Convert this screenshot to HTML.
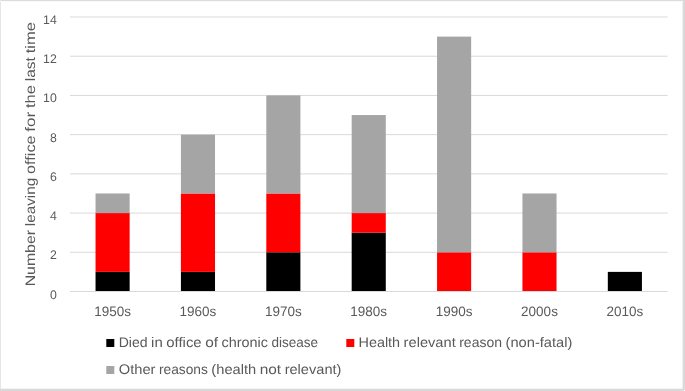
<!DOCTYPE html>
<html><head><meta charset="utf-8"><title>Chart</title>
<style>
html,body{margin:0;padding:0;background:#fff;}
body{width:685px;height:391px;overflow:hidden;font-family:"Liberation Sans",sans-serif;}
svg{display:block;will-change:transform;}
text{font-family:"Liberation Sans",sans-serif;fill:#595959;text-rendering:geometricPrecision;}
</style></head><body>
<svg width="685" height="391" viewBox="0 0 685 391">
<rect x="0" y="0" width="685" height="391" fill="#ffffff"/>

<rect x="70" y="251.79" width="597.6" height="1" fill="#d9d9d9"/>
<rect x="70" y="212.57" width="597.6" height="1" fill="#d9d9d9"/>
<rect x="70" y="173.36" width="597.6" height="1" fill="#d9d9d9"/>
<rect x="70" y="134.14" width="597.6" height="1" fill="#d9d9d9"/>
<rect x="70" y="94.93" width="597.6" height="1" fill="#d9d9d9"/>
<rect x="70" y="55.72" width="597.6" height="1" fill="#d9d9d9"/>
<rect x="70" y="16.50" width="597.6" height="1" fill="#d9d9d9"/>
<rect x="95.54" y="271.89" width="34.1" height="19.61" fill="#000000"/>
<rect x="95.54" y="213.07" width="34.1" height="58.82" fill="#ff0000"/>
<rect x="95.54" y="193.47" width="34.1" height="19.61" fill="#a5a5a5"/>
<rect x="180.92" y="271.89" width="34.1" height="19.61" fill="#000000"/>
<rect x="180.92" y="193.47" width="34.1" height="78.43" fill="#ff0000"/>
<rect x="180.92" y="134.64" width="34.1" height="58.82" fill="#a5a5a5"/>
<rect x="266.30" y="252.29" width="34.1" height="39.21" fill="#000000"/>
<rect x="266.30" y="193.47" width="34.1" height="58.82" fill="#ff0000"/>
<rect x="266.30" y="95.43" width="34.1" height="98.03" fill="#a5a5a5"/>
<rect x="351.68" y="232.68" width="34.1" height="58.82" fill="#000000"/>
<rect x="351.68" y="213.07" width="34.1" height="19.61" fill="#ff0000"/>
<rect x="351.68" y="115.04" width="34.1" height="98.03" fill="#a5a5a5"/>
<rect x="437.06" y="252.29" width="34.1" height="39.21" fill="#ff0000"/>
<rect x="437.06" y="36.61" width="34.1" height="215.68" fill="#a5a5a5"/>
<rect x="522.44" y="252.29" width="34.1" height="39.21" fill="#ff0000"/>
<rect x="522.44" y="193.47" width="34.1" height="58.82" fill="#a5a5a5"/>
<rect x="607.82" y="271.89" width="34.1" height="19.61" fill="#000000"/>
<rect x="70" y="291.00" width="597.6" height="1" fill="#d9d9d9"/>
<text x="94.21" y="316" font-size="13.75" textLength="36.77" lengthAdjust="spacingAndGlyphs">1950s</text>
<text x="179.59" y="316" font-size="13.75" textLength="36.77" lengthAdjust="spacingAndGlyphs">1960s</text>
<text x="264.97" y="316" font-size="13.75" textLength="36.77" lengthAdjust="spacingAndGlyphs">1970s</text>
<text x="350.35" y="316" font-size="13.75" textLength="36.77" lengthAdjust="spacingAndGlyphs">1980s</text>
<text x="435.73" y="316" font-size="13.75" textLength="36.77" lengthAdjust="spacingAndGlyphs">1990s</text>
<text x="521.11" y="316" font-size="13.75" textLength="36.77" lengthAdjust="spacingAndGlyphs">2000s</text>
<text x="606.49" y="316" font-size="13.75" textLength="36.77" lengthAdjust="spacingAndGlyphs">2010s</text>
<text x="49.96" y="298.7" font-size="12.5" textLength="6.84" lengthAdjust="spacingAndGlyphs">0</text>
<text x="49.96" y="259" font-size="12.5" textLength="6.84" lengthAdjust="spacingAndGlyphs">2</text>
<text x="49.96" y="220" font-size="12.5" textLength="6.84" lengthAdjust="spacingAndGlyphs">4</text>
<text x="49.96" y="181" font-size="12.5" textLength="6.84" lengthAdjust="spacingAndGlyphs">6</text>
<text x="49.96" y="142" font-size="12.5" textLength="6.84" lengthAdjust="spacingAndGlyphs">8</text>
<text x="43.11" y="102" font-size="12.5" textLength="13.69" lengthAdjust="spacingAndGlyphs">10</text>
<text x="43.11" y="63" font-size="12.5" textLength="13.69" lengthAdjust="spacingAndGlyphs">12</text>
<text x="43.11" y="23.8" font-size="12.5" textLength="13.69" lengthAdjust="spacingAndGlyphs">14</text>
<g transform="translate(34.5,286.3) rotate(-90)">
<text x="0.00" y="0" font-size="13.8" textLength="56.25" lengthAdjust="spacingAndGlyphs">Number</text>
<text x="60.05" y="0" font-size="13.8" textLength="48.52" lengthAdjust="spacingAndGlyphs">leaving</text>
<text x="112.37" y="0" font-size="13.8" textLength="38.49" lengthAdjust="spacingAndGlyphs">office</text>
<text x="154.67" y="0" font-size="13.8" textLength="19.88" lengthAdjust="spacingAndGlyphs">for</text>
<text x="178.35" y="0" font-size="13.8" textLength="22.86" lengthAdjust="spacingAndGlyphs">the</text>
<text x="205.01" y="0" font-size="13.8" textLength="24.13" lengthAdjust="spacingAndGlyphs">last</text>
<text x="232.94" y="0" font-size="13.8" textLength="31.32" lengthAdjust="spacingAndGlyphs">time</text>
</g>
<rect x="106.3" y="339" width="8" height="8" fill="#000"/>
<text x="118.70" y="347" font-size="13.9" textLength="28.90" lengthAdjust="spacingAndGlyphs">Died</text>
<text x="151.10" y="347" font-size="13.9" textLength="11.67" lengthAdjust="spacingAndGlyphs">in</text>
<text x="166.27" y="347" font-size="13.9" textLength="35.40" lengthAdjust="spacingAndGlyphs">office</text>
<text x="205.17" y="347" font-size="13.9" textLength="12.88" lengthAdjust="spacingAndGlyphs">of</text>
<text x="221.55" y="347" font-size="13.9" textLength="46.46" lengthAdjust="spacingAndGlyphs">chronic</text>
<text x="271.50" y="347" font-size="13.9" textLength="46.61" lengthAdjust="spacingAndGlyphs">disease</text>
<rect x="346.3" y="339" width="8" height="8" fill="#ff0000"/>
<text x="358.50" y="347" font-size="13.9" textLength="41.63" lengthAdjust="spacingAndGlyphs">Health</text>
<text x="403.62" y="347" font-size="13.9" textLength="52.09" lengthAdjust="spacingAndGlyphs">relevant</text>
<text x="459.21" y="347" font-size="13.9" textLength="42.86" lengthAdjust="spacingAndGlyphs">reason</text>
<text x="505.58" y="347" font-size="13.9" textLength="66.81" lengthAdjust="spacingAndGlyphs">(non-fatal)</text>
<rect x="106.3" y="366" width="8" height="8" fill="#a5a5a5"/>
<text x="118.80" y="374" font-size="13.9" textLength="36.67" lengthAdjust="spacingAndGlyphs">Other</text>
<text x="158.97" y="374" font-size="13.9" textLength="48.92" lengthAdjust="spacingAndGlyphs">reasons</text>
<text x="211.39" y="374" font-size="13.9" textLength="44.80" lengthAdjust="spacingAndGlyphs">(health</text>
<text x="259.68" y="374" font-size="13.9" textLength="21.47" lengthAdjust="spacingAndGlyphs">not</text>
<text x="284.65" y="374" font-size="13.9" textLength="56.78" lengthAdjust="spacingAndGlyphs">relevant)</text>
<rect x="0" y="0" width="685" height="1" fill="#dcdcdc"/>
<rect x="0" y="0" width="1" height="391" fill="#e6e6e6"/>
<rect x="682.6" y="0" width="2.4" height="391" fill="#d9d9d9"/>
<rect x="0" y="388.7" width="685" height="2.3" fill="#d9d9d9"/>
<rect x="0" y="1" width="683" height="1" fill="#f9f9f9"/>
<rect x="684" y="390" width="1" height="1" fill="#ffffff"/>
</svg></body></html>
